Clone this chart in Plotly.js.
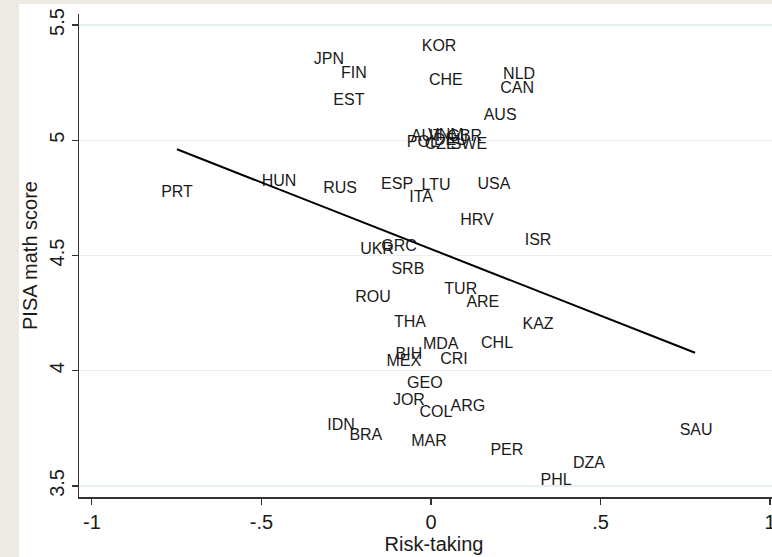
<!DOCTYPE html>
<html>
<head>
<meta charset="utf-8">
<script src="https://cdn.plot.ly/plotly-3.0.1.min.js"></script>
<style>
  html, body { margin: 0; padding: 0; background: #edeae3; width: 772px; height: 557px; overflow: hidden; }
  #chart { position: absolute; left: 19px; top: 4px; width: 770px; height: 553px; background: #ffffff; }
</style>
</head>
<body>
<div id="chart"></div>
<script>
// Country codes (labels drawn at each data point)
const countries = ["JPN","FIN","KOR","CHE","NLD","CAN","EST","AUS",
  "AUT","VNM","GBR","POL","CZE","SWE","DEU",
  "HUN","PRT","RUS","ESP","LTU","ITA","USA","HRV","ISR",
  "UKR","GRC","SRB","ROU","TUR","ARE","THA","KAZ",
  "MDA","CHL","BIH","MEX","CRI","GEO","JOR","COL","ARG",
  "IDN","BRA","MAR","PER","SAU","DZA","PHL"];
// Risk-taking (x)
const riskTaking = [-0.301,-0.227,0.024,0.044,0.260,0.254,-0.242,0.204,
  -0.012,0.044,0.100,-0.024,0.029,0.112,0.059,
  -0.448,-0.749,-0.268,-0.100,0.015,-0.029,0.186,0.136,0.316,
  -0.159,-0.094,-0.068,-0.171,0.088,0.153,-0.062,0.316,
  0.029,0.195,-0.065,-0.080,0.068,-0.018,-0.065,0.015,0.109,
  -0.265,-0.192,-0.006,0.224,0.782,0.466,0.369];
// PISA math score (y)
const pisaMath = [5.348,5.287,5.404,5.257,5.283,5.222,5.170,5.104,
  5.013,5.017,5.013,4.987,4.978,4.978,4.996,
  4.817,4.770,4.787,4.804,4.800,4.748,4.804,4.648,4.561,
  4.526,4.539,4.435,4.317,4.352,4.296,4.209,4.200,
  4.113,4.117,4.070,4.039,4.048,3.943,3.870,3.817,3.843,
  3.761,3.717,3.691,3.652,3.739,3.596,3.522];
// Linear fit line endpoints
const fitX = [-0.749, 0.779];
const fitY = [4.961, 4.078];
// Tick values / labels
const xTickVals = [-1, -0.5, 0, 0.5, 1];
const xTickText = ["-1", "-.5", "0", ".5", "1"];
const yTickVals = [3.5, 4, 4.5, 5, 5.5];
const yTickText = ["3.5", "4", "4.5", "5", "5.5"];

const fontFam = "Liberation Sans, Arial, sans-serif";

const traces = [
  {
    x: riskTaking, y: pisaMath, text: countries,
    type: "scatter", mode: "text", textposition: "middle center",
    textfont: { family: fontFam, size: 16, color: "#1a1a1a" },
    hoverinfo: "none", cliponaxis: false, showlegend: false
  },
  {
    x: fitX, y: fitY, type: "scatter", mode: "lines",
    line: { color: "#000000", width: 2 },
    hoverinfo: "none", showlegend: false
  }
];

const layout = {
  width: 770, height: 553,
  margin: { l: 60, r: 0, t: 10, b: 60 },
  paper_bgcolor: "#ffffff", plot_bgcolor: "#ffffff",
  font: { family: fontFam, color: "#1a1a1a" },
  showlegend: false,
  xaxis: {
    range: [-1.038, 1.056],
    tickvals: xTickVals, ticktext: xTickText,
    ticks: "outside", ticklen: 6, tickwidth: 1.2, tickcolor: "#333333",
    tickfont: { size: 20, color: "#1a1a1a" },
    showgrid: false, zeroline: false,
    showline: true, linecolor: "#333333", linewidth: 1.5,
    title: { text: "Risk-taking", font: { size: 20, color: "#1a1a1a" }, standoff: 2 },
    automargin: false
  },
  yaxis: {
    range: [3.452, 5.548],
    tickvals: yTickVals, ticktext: yTickText,
    tickangle: -90,
    ticks: "outside", ticklen: 6, tickwidth: 1.2, tickcolor: "#333333",
    tickfont: { size: 20, color: "#1a1a1a" },
    showgrid: true, gridcolor: "#e6eef0", gridwidth: 1.5,
    zeroline: false,
    showline: true, linecolor: "#333333", linewidth: 1.5,
    title: { text: "PISA math score", font: { size: 20, color: "#1a1a1a" }, standoff: 4 },
    automargin: false
  }
};

Plotly.newPlot("chart", traces, layout, { staticPlot: true, displayModeBar: false });
</script>
</body>
</html>
